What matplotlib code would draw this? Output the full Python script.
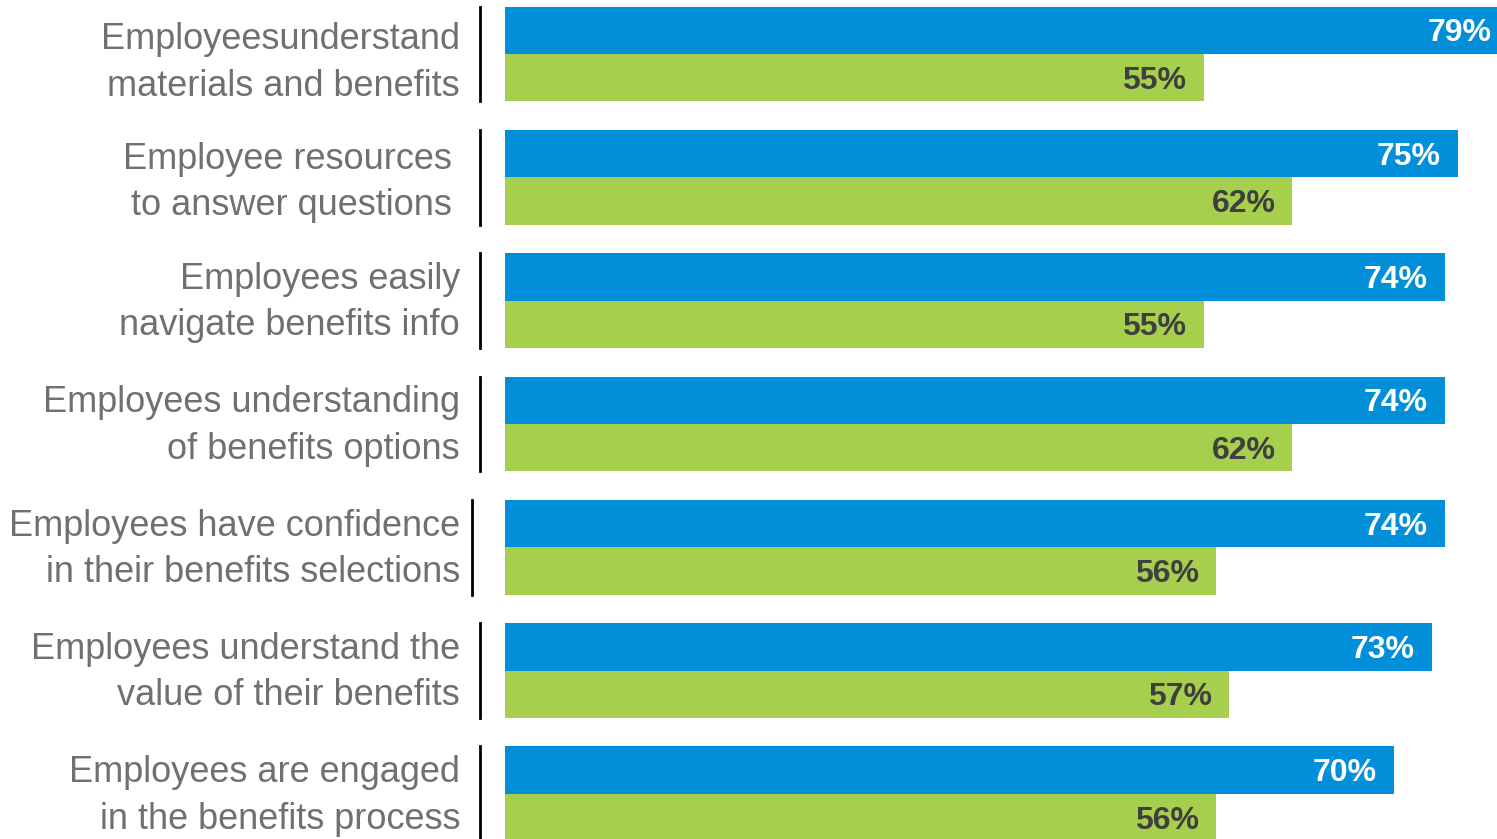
import matplotlib
matplotlib.use("Agg")
import matplotlib.pyplot as plt
from matplotlib import transforms

plt.rcParams['font.family'] = ['Liberation Sans', 'DejaVu Sans']

categories = [
    "Employeesunderstand\nmaterials and benefits",
    "Employee resources\nto answer questions",
    "Employees easily\nnavigate benefits info",
    "Employees understanding\nof benefits options",
    "Employees have confidence\nin their benefits selections",
    "Employees understand the\nvalue of their benefits",
    "Employees are engaged\nin the benefits process",
]
blue_values = [79, 75, 74, 74, 74, 73, 70]
green_values = [55, 62, 55, 62, 56, 57, 56]

BLUE = "#008FD8"
GREEN = "#A6CF4D"
LABEL_GRAY = "#6E7073"

W, H, DPI = 1497, 839, 100
fig = plt.figure(figsize=(W / DPI, H / DPI), dpi=DPI)
# axes starts where bars start (x=505 px) and runs to the right edge
ax = fig.add_axes([505 / W, 0, 1 - 505 / W, 1])

bar_h = 0.385
pitch_px = 123.33
ax.set_xlim(0, (W - 505) / 12.7)
ax.set_ylim((H - 54) / pitch_px, -54 / pitch_px)
ax.axis("off")

ys = list(range(len(categories)))
ax.barh([y - bar_h / 2 for y in ys], blue_values, height=bar_h, color=BLUE, linewidth=0)
ax.barh([y + bar_h / 2 for y in ys], green_values, height=bar_h, color=GREEN, linewidth=0)

pad = transforms.offset_copy(ax.transData, fig=fig, x=-17, y=-3, units="dots")
for y, b, g in zip(ys, blue_values, green_values):
    ax.text(b, y - bar_h / 2, f"{b}%", transform=pad, ha="right", va="center",
            fontsize=23, fontweight="bold", color="white")
    ax.text(g, y + bar_h / 2, f"{g}%", transform=pad, ha="right", va="center",
            fontsize=23, fontweight="bold", color="#3F3F3F")

# category labels and the short divider line next to each group
# labels aren't all placed the same in the source, nudge the first two
text_dy = [-9, -5, -2, -2, -2, -2, -2]
for i, (y, cat) in enumerate(zip(ys, categories)):
    line_off = -33 if i == 4 else -25
    text_off = -53 if i == 1 else -45
    lt = transforms.offset_copy(ax.transData, fig=fig, x=line_off, y=0, units="dots")
    ax.plot([0, 0], [y - bar_h, y + bar_h], color="black", lw=2, transform=lt, clip_on=False)
    tt = transforms.offset_copy(ax.transData, fig=fig, x=text_off, y=text_dy[i], units="dots")
    ax.text(0, y, cat, transform=tt, ha="right", va="center", fontsize=26,
            color=LABEL_GRAY, linespacing=1.42, multialignment="right")

fig.savefig("out.png", dpi=DPI)
